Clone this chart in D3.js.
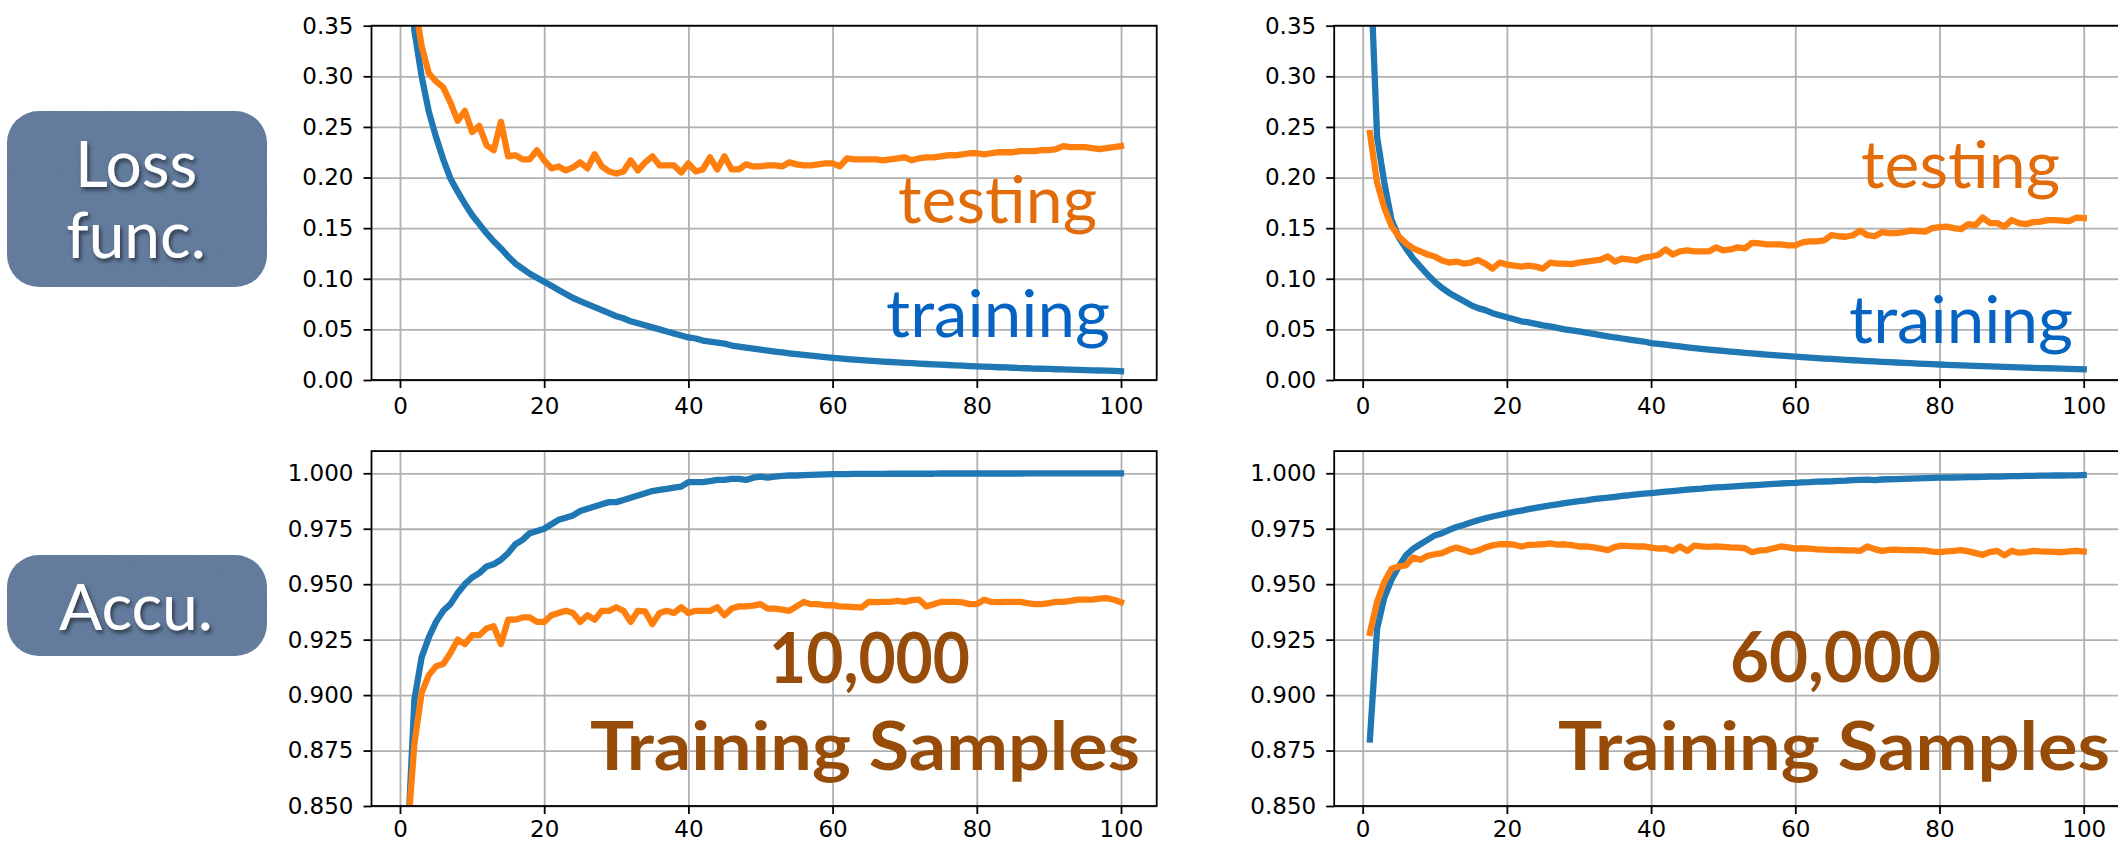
<!DOCTYPE html>
<meta charset="utf-8">
<style>
body { margin: 0; background: #fff; }
.tick text { font-family: "DejaVu Sans", sans-serif; font-size: 23px; fill: #000; }
.axis .tick line { stroke: #000; stroke-width: 1.8px; }
.axis .domain { display: none; }
.grid .tick line { stroke: #b0b0b0; stroke-width: 1.8px; }
.grid .domain { display: none; }
.grid text { display: none; }
.big { font-family: Lato, "Open Sans", sans-serif; }
</style>
<body>
<svg id="chart" width="2118" height="843"></svg>
<script src="https://d3js.org/d3.v7.min.js"></script>
<script>

// loss, 10,000 training samples
var lossTrain10k = [0.470,0.345,0.300,0.265,0.240,0.218,0.199,0.186,0.174,0.163,
  0.154,0.145,0.137,0.130,0.122,0.115,0.110,0.105,0.101,0.097,
  0.093,0.089,0.085,0.081,0.078,0.075,0.072,0.069,0.066,0.063,
  0.061,0.058,0.056,0.054,0.052,0.050,0.048,0.046,0.044,0.042,
  0.041,0.039,0.038,0.037,0.036,0.034,0.033,0.032,0.031,0.030,
  0.0290,0.0281,0.0272,0.0264,0.0256,0.0248,0.0240,0.0233,0.0226,0.0219,
  0.0213,0.0207,0.0202,0.0197,0.0192,0.0187,0.0182,0.0178,0.0174,0.0170,
  0.0166,0.0162,0.0158,0.0155,0.0151,0.0148,0.0145,0.0141,0.0138,0.0135,
  0.0132,0.0129,0.0126,0.0124,0.0121,0.0118,0.0116,0.0113,0.0111,0.0109,
  0.0106,0.0104,0.0102,0.0100,0.0098,0.0096,0.0094,0.0092,0.0090,0.0087];
var lossTest10k = [0.500,0.375,0.330,0.303,0.295,0.289,0.274,0.256,0.266,0.245,
  0.251,0.232,0.227,0.255,0.221,0.222,0.218,0.218,0.227,0.217,
  0.209,0.211,0.207,0.210,0.215,0.209,0.223,0.211,0.206,0.204,
  0.206,0.217,0.207,0.215,0.221,0.212,0.212,0.212,0.205,0.214,
  0.206,0.208,0.220,0.208,0.221,0.208,0.208,0.213,0.211,0.211,
  0.212,0.212,0.211,0.215,0.213,0.212,0.212,0.213,0.214,0.214,
  0.211,0.219,0.218,0.218,0.218,0.218,0.217,0.218,0.219,0.220,
  0.217,0.219,0.220,0.220,0.221,0.222,0.222,0.223,0.224,0.224,
  0.223,0.224,0.225,0.225,0.225,0.226,0.226,0.226,0.227,0.227,
  0.228,0.231,0.230,0.230,0.230,0.229,0.228,0.229,0.230,0.231];

// accuracy, 10,000 training samples
var accTrain10k = [0.830,0.898,0.917,0.926,0.933,0.938,0.941,0.946,0.950,0.953,
  0.955,0.958,0.959,0.961,0.964,0.968,0.970,0.973,0.974,0.975,
  0.977,0.979,0.980,0.981,0.983,0.984,0.985,0.986,0.987,0.987,
  0.988,0.989,0.990,0.991,0.992,0.9925,0.993,0.9935,0.994,0.996,
  0.996,0.996,0.9965,0.997,0.997,0.9975,0.9975,0.997,0.998,0.9985,
  0.998,0.9985,0.9988,0.999,0.999,0.9992,0.9993,0.9994,0.9995,0.9996,
  0.9996,0.9996,0.9997,0.9997,0.9997,0.9997,0.9997,0.9998,0.9998,0.9998,
  0.9998,0.9998,0.9998,0.9998,0.9999,0.9999,0.9999,0.9999,0.9999,0.9999,
  0.9999,0.9999,0.9999,0.9999,0.9999,0.9999,1.0000,1.0000,1.0000,1.0000,
  1.0000,1.0000,1.0000,1.0000,1.0000,1.0000,1.0000,1.0000,1.0000,1.0000];
var accTest10k = [0.835,0.878,0.901,0.909,0.913,0.914,0.919,0.925,0.923,0.927,
  0.927,0.930,0.931,0.923,0.934,0.934,0.935,0.935,0.933,0.933,
  0.936,0.937,0.938,0.937,0.933,0.936,0.934,0.938,0.938,0.9396,
  0.938,0.933,0.938,0.9377,0.932,0.937,0.938,0.937,0.9396,0.937,
  0.938,0.938,0.938,0.9396,0.936,0.939,0.940,0.940,0.9403,0.941,
  0.939,0.939,0.9385,0.938,0.940,0.942,0.941,0.941,0.9405,0.9406,
  0.940,0.9399,0.9397,0.9395,0.942,0.9419,0.942,0.942,0.9425,0.942,
  0.9428,0.943,0.940,0.941,0.942,0.942,0.942,0.9418,0.941,0.941,
  0.943,0.942,0.9419,0.942,0.942,0.942,0.9415,0.941,0.941,0.9415,
  0.942,0.942,0.9425,0.943,0.943,0.943,0.9435,0.9437,0.943,0.9419];

// loss, 60,000 training samples
var lossTrain60k = [0.420,0.240,0.195,0.158,0.141,0.130,0.120,0.112,0.104,0.097,
  0.091,0.086,0.082,0.078,0.074,0.071,0.069,0.066,0.064,0.062,
  0.060,0.058,0.057,0.0555,0.054,0.053,0.0515,0.050,0.049,0.048,
  0.0468,0.0455,0.0443,0.0432,0.0420,0.0410,0.0400,0.0390,0.0380,0.0365,
  0.0357,0.0349,0.0340,0.0332,0.0323,0.0315,0.0307,0.0300,0.0294,0.0288,
  0.0281,0.0275,0.0268,0.0262,0.0257,0.0251,0.0246,0.0241,0.0236,0.0231,
  0.0226,0.0221,0.0217,0.0212,0.0208,0.0203,0.0199,0.0195,0.0191,0.0187,
  0.0183,0.0180,0.0176,0.0173,0.0169,0.0166,0.0162,0.0159,0.0156,0.0153,
  0.0150,0.0147,0.0145,0.0142,0.0139,0.0137,0.0134,0.0132,0.0129,0.0127,
  0.0125,0.0122,0.0120,0.0118,0.0116,0.0114,0.0112,0.0110,0.0108,0.0106];
var lossTest60k = [0.244,0.195,0.170,0.152,0.142,0.135,0.130,0.127,0.124,0.122,
  0.118,0.116,0.117,0.115,0.116,0.1185,0.115,0.110,0.116,0.114,
  0.113,0.112,0.113,0.112,0.110,0.116,0.115,0.115,0.1145,0.116,
  0.117,0.118,0.119,0.122,0.117,0.120,0.119,0.118,0.121,0.122,
  0.1235,0.129,0.124,0.127,0.128,0.127,0.127,0.127,0.131,0.128,
  0.129,0.131,0.130,0.1355,0.135,0.134,0.134,0.134,0.133,0.133,
  0.136,0.137,0.137,0.138,0.143,0.142,0.1415,0.143,0.1475,0.143,
  0.142,0.146,0.145,0.145,0.146,0.1475,0.147,0.1465,0.150,0.151,
  0.1515,0.150,0.149,0.154,0.153,0.1605,0.155,0.155,0.1515,0.158,
  0.155,0.154,0.156,0.1565,0.158,0.158,0.1575,0.157,0.1605,0.160];

// accuracy, 60,000 training samples
var accTrain60k = [0.880,0.930,0.944,0.952,0.958,0.963,0.966,0.968,0.970,0.972,
  0.973,0.9745,0.9758,0.9767,0.9778,0.9788,0.9797,0.9805,0.9812,0.9819,
  0.9826,0.9832,0.9838,0.9844,0.985,0.9855,0.986,0.9865,0.987,0.9874,
  0.9878,0.9883,0.9887,0.989,0.9894,0.9898,0.9901,0.9905,0.9908,0.9911,
  0.9914,0.9917,0.992,0.9923,0.9926,0.9929,0.9931,0.9934,0.9936,0.9938,
  0.994,0.9942,0.9944,0.9946,0.9948,0.995,0.9952,0.9954,0.9956,0.9957,
  0.9959,0.996,0.9962,0.9963,0.9964,0.9966,0.9967,0.9969,0.997,0.9971,
  0.9969,0.9972,0.9973,0.9974,0.9975,0.9976,0.9977,0.9978,0.9979,0.998,
  0.998,0.9981,0.9982,0.9983,0.9983,0.9984,0.9985,0.9985,0.9986,0.9987,
  0.9987,0.9988,0.9988,0.9989,0.9989,0.999,0.999,0.9991,0.9991,0.9992];
var accTest60k = [0.928,0.942,0.951,0.957,0.958,0.9585,0.962,0.961,0.9628,0.9635,
  0.964,0.9655,0.9665,0.9655,0.9644,0.9652,0.9665,0.9675,0.968,0.968,
  0.9678,0.967,0.9677,0.9678,0.968,0.9684,0.9678,0.968,0.9676,0.967,
  0.967,0.9666,0.966,0.9654,0.9668,0.9674,0.9672,0.967,0.967,0.9665,
  0.966,0.9662,0.965,0.967,0.965,0.9674,0.967,0.9668,0.967,0.9668,
  0.9666,0.9665,0.9662,0.9644,0.9652,0.9654,0.9662,0.967,0.9666,0.966,
  0.9662,0.966,0.9657,0.9656,0.9654,0.9655,0.9652,0.9652,0.965,0.967,
  0.9658,0.965,0.9655,0.9656,0.9654,0.9655,0.9652,0.9652,0.9647,0.9645,
  0.9648,0.965,0.9654,0.9648,0.964,0.9632,0.9645,0.965,0.963,0.965,
  0.9642,0.9645,0.965,0.9648,0.9647,0.9646,0.9644,0.9648,0.965,0.9647];

var xTicks = [0, 20, 40, 60, 80, 100];
var lossTicks = [0, 0.05, 0.10, 0.15, 0.20, 0.25, 0.30, 0.35];
var accTicks = [0.850, 0.875, 0.900, 0.925, 0.950, 0.975, 1.000];
var sampleLabels = ["10,000", "60,000"];

var blue = "#1f77b4", orange = "#ff7f0e";

var svg = d3.select("#chart");

var defs = svg.append("defs");
var shadow = defs.append("filter").attr("id", "shadow")
    .attr("x", "-20%").attr("y", "-20%").attr("width", "140%").attr("height", "140%");
shadow.append("feDropShadow")
    .attr("dx", 2).attr("dy", 3).attr("stdDeviation", 2)
    .attr("flood-color", "#000").attr("flood-opacity", 0.55);

var grain = defs.append("filter").attr("id", "grain");
grain.append("feTurbulence").attr("type", "fractalNoise")
    .attr("baseFrequency", 0.8).attr("numOctaves", 2).attr("result", "noise");
grain.append("feColorMatrix").attr("in", "noise").attr("type", "matrix")
    .attr("values", "0 0 0 0 1  0 0 0 0 1  0 0 0 0 1  0 0 0 0.10 0").attr("result", "n2");
grain.append("feComposite").attr("in", "n2").attr("in2", "SourceGraphic").attr("operator", "in");

// panel geometry
var colLeft = [371.5, 1334.2], panelW = 785.2;
var rows = [
  {top: 25.7, bottom: 380, domain: [0, 0.35], ticks: lossTicks, fmt: d3.format(".2f"), pad: 10},
  {top: 451.1, bottom: 806, domain: [0.85, 1.01], ticks: accTicks, fmt: d3.format(".3f"), pad: 7}
];

var panels = [
  {row: 0, col: 0, train: lossTrain10k, test: lossTest10k},
  {row: 0, col: 1, train: lossTrain60k, test: lossTest60k},
  {row: 1, col: 0, train: accTrain10k, test: accTest10k},
  {row: 1, col: 1, train: accTrain60k, test: accTest60k}
];

panels.forEach(function(p, k) {
  var r = rows[p.row];
  var x = d3.scaleLinear().domain([-3.95, 104.95]).range([colLeft[p.col], colLeft[p.col] + panelW]);
  var y = d3.scaleLinear().domain(r.domain).range([r.bottom, r.top]);
  var g = svg.append("g");

  defs.append("clipPath").attr("id", "clip" + k)
    .append("rect")
      .attr("x", x.range()[0]).attr("y", r.top)
      .attr("width", panelW).attr("height", r.bottom - r.top);

  // grid
  g.append("g").attr("class", "grid")
      .attr("transform", "translate(0," + r.bottom + ")")
      .call(d3.axisBottom(x).tickValues(xTicks).tickSize(-(r.bottom - r.top)).tickFormat(""));
  g.append("g").attr("class", "grid")
      .attr("transform", "translate(" + x.range()[0] + ",0)")
      .call(d3.axisLeft(y).tickValues(r.ticks).tickSize(-panelW).tickFormat(""));

  var line = d3.line()
      .x(function(d, i) { return x(i + 1); })
      .y(function(d) { return y(d); });

  var lines = g.append("g").attr("clip-path", "url(#clip" + k + ")");
  [[p.train, blue], [p.test, orange]].forEach(function(s) {
    lines.append("path")
      .datum(s[0])
      .attr("d", line)
      .attr("fill", "none")
      .attr("stroke", s[1])
      .attr("stroke-width", 6.3)
      .attr("stroke-linejoin", "round")
      .attr("stroke-linecap", "square");
  });

  // spines
  g.append("rect")
      .attr("x", x.range()[0]).attr("y", r.top)
      .attr("width", panelW).attr("height", r.bottom - r.top)
      .attr("fill", "none").attr("stroke", "#000").attr("stroke-width", 1.8);

  // axes
  g.append("g").attr("class", "axis")
      .attr("transform", "translate(0," + r.bottom + ")")
      .call(d3.axisBottom(x).tickValues(xTicks).tickSize(8).tickPadding(r.pad).tickFormat(d3.format("d")));
  g.append("g").attr("class", "axis")
      .attr("transform", "translate(" + x.range()[0] + ",0)")
      .call(d3.axisLeft(y).tickValues(r.ticks).tickSize(8).tickPadding(10).tickFormat(r.fmt));
});

// overlaid annotation text
var offs = [0, 963];
offs.forEach(function(dx, c) {
  var tb = c === 0 ? [223, 337] : [188, 343];
  svg.append("text").attr("class", "big")
      .attr("x", 898 + dx).attr("y", tb[0])
      .attr("textLength", 199).attr("lengthAdjust", "spacingAndGlyphs")
      .attr("font-size", 66).attr("fill", "#e36c0a")
      .text("testing");
  svg.append("text").attr("class", "big")
      .attr("x", 886 + dx).attr("y", tb[1])
      .attr("textLength", 224).attr("lengthAdjust", "spacingAndGlyphs")
      .attr("font-size", 66).attr("fill", "#0563c1")
      .text("training");
});

var numX = [[769, 201, 683], [1730, 211, 682]];
var tsX = [[590, 550], [1558, 552]];
[0, 1].forEach(function(c) {
  svg.append("text").attr("class", "big")
      .attr("x", numX[c][0]).attr("y", numX[c][2])
      .attr("textLength", numX[c][1]).attr("lengthAdjust", "spacingAndGlyphs")
      .attr("font-size", 70).attr("font-weight", 700).attr("fill", "#974c09")
      .text(sampleLabels[c]);
  svg.append("text").attr("class", "big")
      .attr("x", tsX[c][0]).attr("y", 770)
      .attr("textLength", tsX[c][1]).attr("lengthAdjust", "spacingAndGlyphs")
      .attr("font-size", 67).attr("font-weight", 700).attr("fill", "#974c09")
      .text("Training Samples");
});

// side labels
var boxes = [
  {y: 111, h: 176, lines: ["Loss", "func."], base: [187, 258]},
  {y: 555, h: 101, lines: ["Accu."], base: [630]}
];
boxes.forEach(function(b) {
  svg.append("rect")
      .attr("x", 7).attr("y", b.y).attr("width", 260).attr("height", b.h)
      .attr("rx", 32).attr("fill", "#5b7497");
  svg.append("rect")
      .attr("x", 7).attr("y", b.y).attr("width", 260).attr("height", b.h)
      .attr("rx", 32).attr("fill", "#5b7497").attr("filter", "url(#grain)");
  b.lines.forEach(function(t, i) {
    svg.append("text").attr("class", "big")
        .attr("x", 136).attr("y", b.base[i])
        .attr("text-anchor", "middle")
        .attr("font-size", 64).attr("fill", "#fff")
        .attr("filter", "url(#shadow)")
        .text(t);
  });
});

</script>
</body>
